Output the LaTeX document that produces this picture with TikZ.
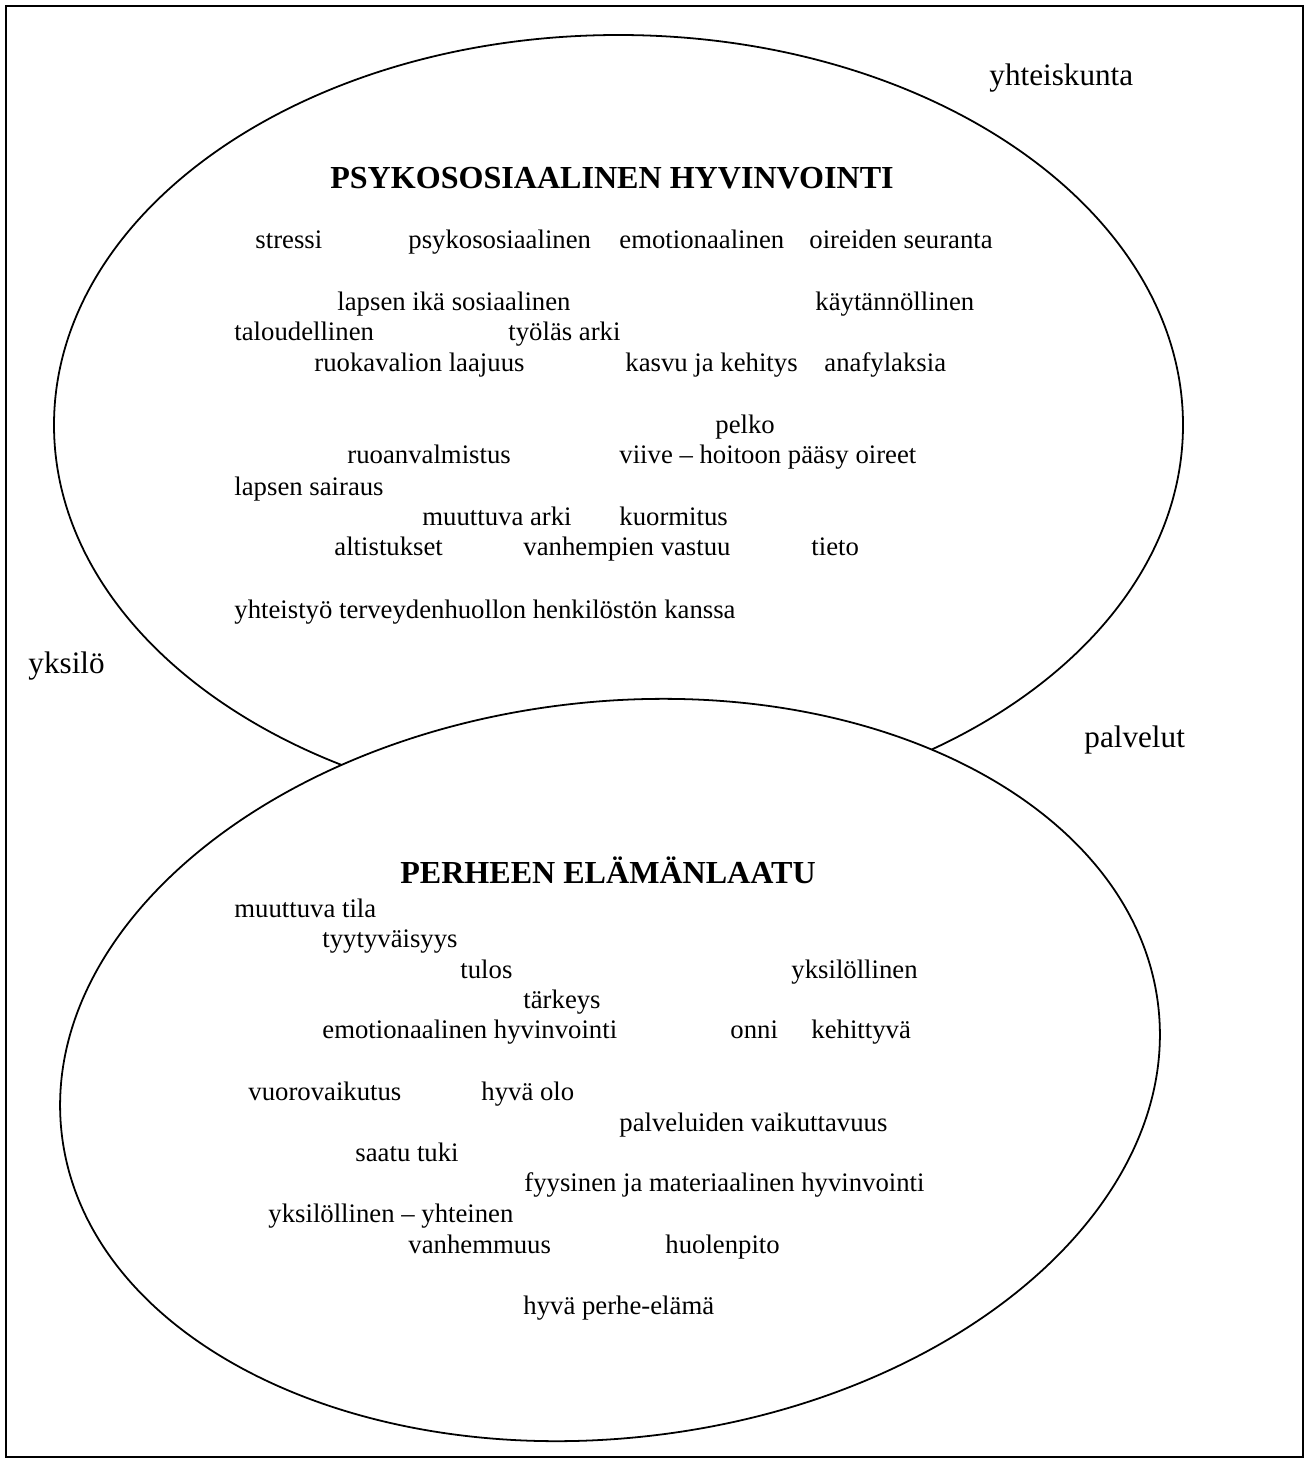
\documentclass[tikz,border=0pt]{standalone}
\usepackage{fontspec}
\setmainfont{Liberation Serif}
\usepackage{tikz}

\begin{document}
\begin{tikzpicture}[x=0.449pt, y=-0.449pt,
  word/.style={anchor=west, inner sep=0pt, font=\fontsize{12}{14}\selectfont,
    text height=8pt, text depth=0pt},
  side/.style={anchor=west, inner sep=0pt, font=\fontsize{14}{17}\selectfont,
    text height=9.5pt, text depth=0pt},
  head/.style={inner sep=0pt, font=\bfseries\fontsize{14.4}{17}\selectfont,
    text height=9.8pt, text depth=0pt},
  ring/.style={draw, fill=white, line width=0.8pt}]
  \useasboundingbox (0,0) rectangle (1309,1464);
  \draw[line width=0.5pt] (6,6) rectangle (1303,1457);

  % the two circles, lower one on top
  \draw[ring] (618.5,425) ellipse [x radius=564.5, y radius=390];
  \draw[ring, rotate around={6.7:(610,1070)}] (610,1070) ellipse [x radius=552, y radius=368];

  % levels round the circles
  \node[side] (yht) at (989,75) {yhteiskunta};
  \node[side] (yks) at (28,663) {yksilö};
  \node[side] (pal) at (1084,737) {palvelut};

  % psykososiaalinen hyvinvointi
  \node[head] (psy) at (612,178) {PSYKOSOSIAALINEN HYVINVOINTI};
  \node[word] (p1) at (255,240) {stressi};
  \node[word] (p2) at (408,240) {psykososiaalinen};
  \node[word] (p3) at (619,240) {emotionaalinen};
  \node[word] (p4) at (809,240) {oireiden seuranta};
  \node[word] (p5) at (337,302) {lapsen ikä sosiaalinen};
  \node[word] (p6) at (815,302) {käytännöllinen};
  \node[word] (p7) at (234,332) {taloudellinen};
  \node[word] (p8) at (508,332) {työläs arki};
  \node[word] (p9) at (314,363) {ruokavalion laajuus};
  \node[word] (p10) at (625,363) {kasvu ja kehitys};
  \node[word] (p11) at (824,363) {anafylaksia};
  \node[word] (p12) at (715,425) {pelko};
  \node[word] (p13) at (347,455) {ruoanvalmistus};
  \node[word] (p14) at (619,455) {viive – hoitoon pääsy oireet};
  \node[word] (p15) at (234,487) {lapsen sairaus};
  \node[word] (p16) at (422,517) {muuttuva arki};
  \node[word] (p17) at (619,517) {kuormitus};
  \node[word] (p18) at (334,547) {altistukset};
  \node[word] (p19) at (523,547) {vanhempien vastuu};
  \node[word] (p20) at (811,547) {tieto};
  \node[word] (p21) at (234,610) {yhteistyö terveydenhuollon henkilöstön kanssa};

  % perheen elämänlaatu
  \node[head] (per) at (608,873) {PERHEEN ELÄMÄNLAATU};
  \node[word] (e1) at (234,909) {muuttuva tila};
  \node[word] (e2) at (322,939) {tyytyväisyys};
  \node[word] (e3) at (460,970) {tulos};
  \node[word] (e4) at (791,970) {yksilöllinen};
  \node[word] (e5) at (523,1000) {tärkeys};
  \node[word] (e6) at (322,1030) {emotionaalinen hyvinvointi};
  \node[word] (e7) at (730,1030) {onni};
  \node[word] (e8) at (811,1030) {kehittyvä};
  \node[word] (e9) at (248,1092) {vuorovaikutus};
  \node[word] (e10) at (481,1092) {hyvä olo};
  \node[word] (e11) at (619,1123) {palveluiden vaikuttavuus};
  \node[word] (e12) at (355,1153) {saatu tuki};
  \node[word] (e13) at (524,1183) {fyysinen ja materiaalinen hyvinvointi};
  \node[word] (e14) at (268,1214) {yksilöllinen – yhteinen};
  \node[word] (e15) at (408,1245) {vanhemmuus};
  \node[word] (e16) at (665,1245) {huolenpito};
  \node[word] (e17) at (523,1306) {hyvä perhe-elämä};
\end{tikzpicture}
\end{document}
